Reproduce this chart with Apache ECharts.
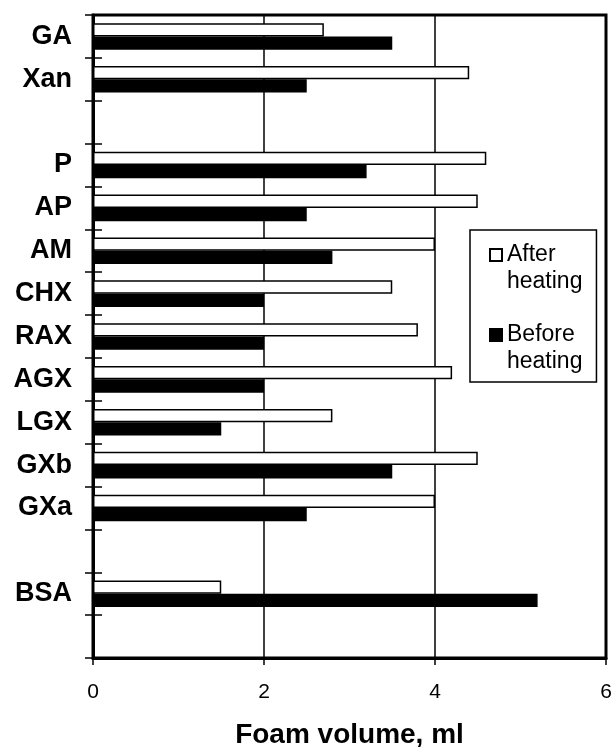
<!DOCTYPE html>
<html>
<head>
<meta charset="utf-8">
<script src="https://cdn.jsdelivr.net/npm/echarts@6/dist/echarts.min.js"></script>
<style>
html,body{margin:0;padding:0;background:#fff;}
#chart{width:613px;height:747px;}
</style>
</head>
<body>
<div id="chart"></div>
<script>
// Categories listed top to bottom (blank slots keep the gaps)
const categories = ['GA', 'Xan', ' ', 'P', 'AP', 'AM', 'CHX', 'RAX', 'AGX', 'LGX', 'GXb', 'GXa', '  ', 'BSA', '   '];
const afterHeating  = [2.7, 4.4, null, 4.6, 4.5, 4.0, 3.5, 3.8, 4.2, 2.8, 4.5, 4.0, null, 1.5, null];
const beforeHeating = [3.5, 2.5, null, 3.2, 2.5, 2.8, 2.0, 2.0, 2.0, 1.5, 3.5, 2.5, null, 5.2, null];
const xTicks = [0, 2, 4, 6];
const seriesNames = ['After\nheating', 'Before\nheating'];

const FONT = '"Liberation Sans", Arial, Helvetica, sans-serif';
const chart = echarts.init(document.getElementById('chart'), null, {renderer: 'canvas'});

// legend swatch: a square next to the first text line (moveTo points extend the box)
const swatch = 'path://M0,0M12,54M0,8L12,8L12,20L0,20Z';

chart.setOption({
  animation: false,
  backgroundColor: '#fff',
  grid: {
    left: 93, right: 7, top: 15, bottom: 89,
    outerBoundsMode: 'none',
    containLabel: false,
    show: true, borderColor: '#000', borderWidth: 3, backgroundColor: 'transparent'
  },
  legend: {
    orient: 'vertical',
    left: 470, top: 230,
    padding: [10, 14, 6, 19],
    backgroundColor: '#fff',
    borderColor: '#000',
    borderWidth: 1.5,
    borderRadius: 0,
    selectedMode: false,
    itemWidth: 12, itemHeight: 54,
    itemGap: 24,
    icon: swatch,
    textStyle: {
      fontFamily: FONT, fontSize: 23, color: '#000',
      lineHeight: 27
    },
    data: seriesNames
  },
  xAxis: {
    type: 'value',
    min: xTicks[0], max: xTicks[xTicks.length - 1], interval: 2,
    name: 'Foam volume, ml',
    nameLocation: 'middle',
    nameGap: 63,
    nameTextStyle: {fontFamily: FONT, fontSize: 28, fontWeight: 'bold', color: '#000'},
    axisLine: {show: true, lineStyle: {color: '#000', width: 3}},
    axisTick: {show: true, length: 7, lineStyle: {color: '#000', width: 1.5}},
    axisLabel: {fontFamily: FONT, fontSize: 21, color: '#000', margin: 24},
    splitLine: {show: true, lineStyle: {color: '#000', width: 1.5}}
  },
  yAxis: [{
    type: 'category',
    inverse: true,
    data: categories,
    axisLine: {show: true, lineStyle: {color: '#000', width: 3}},
    axisTick: {show: true, length: 8, lineStyle: {color: '#000', width: 1.5}},
    axisLabel: {fontFamily: FONT, fontSize: 27, fontWeight: 'bold', color: '#000', margin: 21},
    splitLine: {show: false}
  }, {
    type: 'category',
    inverse: true,
    position: 'left',
    data: categories,
    axisLine: {show: false},
    axisTick: {show: true, inside: true, length: 9, lineStyle: {color: '#000', width: 1.5}},
    axisLabel: {show: false},
    splitLine: {show: false}
  }],
  series: [{
    name: seriesNames[0],
    type: 'bar',
    yAxisIndex: 0,
    data: afterHeating,
    barGap: '0%',
    barCategoryGap: '38%',
    itemStyle: {color: '#fff', borderColor: '#000', borderWidth: 1.5},
    z: 3
  }, {
    name: seriesNames[1],
    type: 'bar',
    yAxisIndex: 0,
    data: beforeHeating,
    barGap: '0%',
    barCategoryGap: '38%',
    itemStyle: {color: '#000', borderColor: '#000', borderWidth: 1.5},
    z: 3
  }]
});
</script>
</body>
</html>
